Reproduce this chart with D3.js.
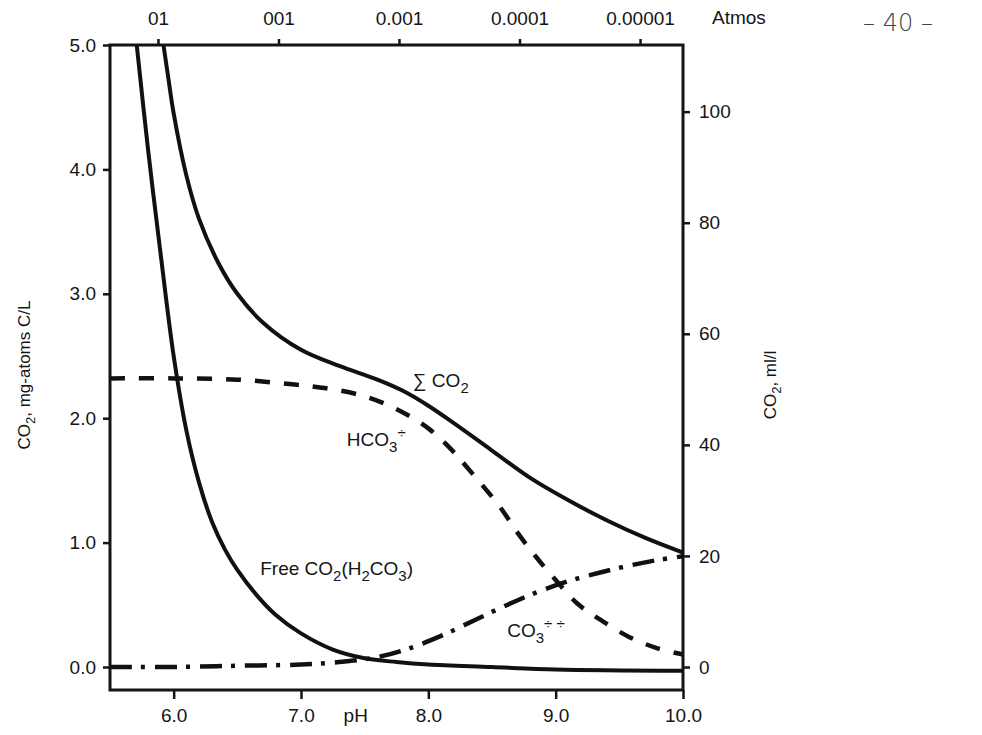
<!DOCTYPE html>
<html>
<head>
<meta charset="utf-8">
<script src="https://cdn.jsdelivr.net/npm/d3@7"></script>
<style>
    body { margin: 0; background: #fff; }
    svg text { font-family: 'Liberation Sans', Arial, sans-serif; fill: #151515; }
    .axis path.domain { display: none; }
    .axis line { stroke: #151515; stroke-width: 2.5; }
</style>
</head>
<body>
<div id="chart"></div>
<script>
// tick values
const phTicks = [6, 7, 8, 9, 10];
const mgTicks = [0, 1, 2, 3, 4, 5];
const mlTicks = [0, 20, 40, 60, 80, 100];
const atmosTicks = [0.1, 0.01, 0.001, 0.0001, 0.00001];
const atmosLabels = ['01', '001', '0.001', '0.0001', '0.00001'];

// curves, [pH, mg-atoms C/L]
const sumCO2 = [
    [5.92, 5.0], [5.96, 4.72], [6.0, 4.45], [6.1, 3.95], [6.2, 3.6],
    [6.35, 3.25], [6.5, 3.0], [6.7, 2.77], [7.0, 2.55], [7.3, 2.42],
    [7.6, 2.31], [7.8, 2.22], [8.0, 2.1], [8.2, 1.96], [8.5, 1.74],
    [8.8, 1.52], [9.1, 1.34], [9.4, 1.18], [9.7, 1.04], [10.0, 0.92],
];
const bicarbonate = [
    [5.5, 2.32], [6.0, 2.32], [6.5, 2.31], [6.95, 2.27], [7.2, 2.24],
    [7.45, 2.19], [7.65, 2.12], [7.83, 2.03], [8.01, 1.91], [8.17, 1.76],
    [8.3, 1.61], [8.56, 1.29], [8.7, 1.08], [8.85, 0.88], [9.0, 0.70],
    [9.17, 0.51], [9.35, 0.38], [9.58, 0.24], [9.8, 0.15], [10.0, 0.10],
];
const carbonate = [
    [5.5, 0.0], [6.0, 0.0], [6.5, 0.01], [7.0, 0.02], [7.3, 0.04],
    [7.6, 0.08], [7.85, 0.15], [8.1, 0.25], [8.35, 0.37], [8.6, 0.49],
    [8.85, 0.6], [9.1, 0.69], [9.35, 0.76], [9.6, 0.82], [9.8, 0.86],
    [10.0, 0.89],
];
const freeCO2 = [
    [5.71, 5.0], [5.8, 4.15], [5.9, 3.3], [6.0, 2.5], [6.1, 1.9],
    [6.2, 1.48], [6.3, 1.17], [6.4, 0.95], [6.5, 0.78], [6.65, 0.58],
    [6.8, 0.42], [7.0, 0.27], [7.25, 0.14], [7.5, 0.07], [7.75, 0.04],
    [8.0, 0.02], [8.5, 0.0], [9.0, -0.02], [10.0, -0.03],
];

const width = 982;
const height = 735;
const frame = {left: 110, right: 683, top: 45, zero: 667, bottom: 690};
const fontSize = '19px';

const svg = d3
    .select('#chart')
    .append('svg')
    .attr('width', width)
    .attr('height', height);

const x = d3.scaleLinear().domain([5.5, 10]).range([frame.left, frame.right]);
const y = d3.scaleLinear().domain([0, 5]).range([frame.zero, frame.top]);
const yMl = d3.scaleLinear().domain([0, 5 * 22.4]).range([frame.zero, frame.top]);
const xAtm = d3.scaleLog().domain([0.25, 4.4e-6]).range([frame.left, frame.right]);

// frame
svg.append('rect')
    .attr('x', frame.left)
    .attr('y', frame.top)
    .attr('width', frame.right - frame.left)
    .attr('height', frame.bottom - frame.top)
    .attr('fill', 'none')
    .attr('stroke', '#151515')
    .attr('stroke-width', 3);

const fmt = d3.format('.1f');

svg.append('g')
    .attr('class', 'axis')
    .attr('transform', 'translate(' + frame.left + ',0)')
    .call(d3.axisLeft(y).tickValues(mgTicks).tickFormat(fmt).tickSize(7).tickPadding(7))
    .selectAll('text')
    .style('font-size', fontSize);

svg.append('g')
    .attr('class', 'axis')
    .attr('transform', 'translate(' + frame.right + ',0)')
    .call(d3.axisRight(yMl).tickValues(mlTicks).tickSize(7).tickPadding(9))
    .selectAll('text')
    .style('font-size', fontSize);

svg.append('g')
    .attr('class', 'axis')
    .attr('transform', 'translate(0,' + frame.bottom + ')')
    .call(d3.axisBottom(x).tickValues(phTicks).tickFormat(fmt).tickSize(9).tickPadding(10))
    .selectAll('text')
    .style('font-size', fontSize);

svg.append('g')
    .attr('class', 'axis')
    .attr('transform', 'translate(0,' + frame.top + ')')
    .call(d3.axisTop(xAtm)
        .tickValues(atmosTicks)
        .tickFormat((d, i) => atmosLabels[i])
        .tickSize(6)
        .tickPadding(14))
    .selectAll('text')
    .style('font-size', fontSize);

svg.append('text')
    .attr('x', xAtm(4.4e-6) + 29)
    .attr('y', 24)
    .style('font-size', fontSize)
    .text('Atmos');

// page number of the plate
svg.append('text')
    .attr('x', 898)
    .attr('y', 31)
    .attr('text-anchor', 'middle')
    .style('font-family', "'DejaVu Sans', sans-serif")
    .style('font-size', '24px')
    .style('font-weight', 200)
    .style('fill', '#444')
    .text('\u2013 40 \u2013');

// text with sub / superscripts
const subText = (sel, parts) => {
    parts.forEach((p) => {
        const t = sel.append('tspan').text(p.t);
        if (p.sub) {
            t.attr('dy', p.dy || 6).style('font-size', p.size || '15px');
        } else if (p.sup) {
            t.attr('dy', p.dy || -10).style('font-size', p.size || '15px');
        } else if (p.dy) {
            t.attr('dy', p.dy);
        }
    });
    return sel;
};

subText(svg.append('text')
    .attr('transform', 'translate(30,375) rotate(-90)')
    .attr('text-anchor', 'middle')
    .style('font-size', '17px'),
[{t: 'CO'}, {t: '2', sub: true, size: '13px', dy: 5}, {t: ', mg-atoms C/L', dy: -5}]);

subText(svg.append('text')
    .attr('transform', 'translate(776,385) rotate(-90)')
    .attr('text-anchor', 'middle')
    .style('font-size', '17px'),
[{t: 'CO'}, {t: '2', sub: true, size: '13px', dy: 5}, {t: ', ml/l', dy: -5}]);

svg.append('text')
    .attr('x', x(7.43))
    .attr('y', frame.bottom + 32)
    .attr('text-anchor', 'middle')
    .style('font-size', fontSize)
    .text('pH');

// curves
const line = d3.line()
    .x((d) => x(d[0]))
    .y((d) => y(d[1]))
    .curve(d3.curveCatmullRom.alpha(0.5));

const series = [
    {data: freeCO2, dash: null, w: 4},
    {data: sumCO2, dash: null, w: 4},
    {data: bicarbonate, dash: '15,14', w: 4.5},
    {data: carbonate, dash: '22,9,4,10', w: 4.5},
];

svg.selectAll('.curve')
    .data(series)
    .enter()
    .append('path')
    .attr('class', 'curve')
    .attr('d', (d) => line(d.data))
    .attr('fill', 'none')
    .attr('stroke', '#111')
    .attr('stroke-width', (d) => d.w)
    .attr('stroke-dasharray', (d) => d.dash);

// curve labels
subText(svg.append('text')
    .attr('x', x(7.88))
    .attr('y', y(2.25))
    .style('font-size', fontSize),
[{t: '\u2211 CO'}, {t: '2', sub: true}]);

subText(svg.append('text')
    .attr('x', x(7.36))
    .attr('y', y(1.78))
    .style('font-size', fontSize),
[{t: 'HCO'}, {t: '3', sub: true}, {t: '\u00f7', sup: true, dy: -14}]);

subText(svg.append('text')
    .attr('x', x(6.68))
    .attr('y', y(0.74))
    .style('font-size', fontSize),
[{t: 'Free CO'}, {t: '2', sub: true}, {t: '(H', dy: -6}, {t: '2', sub: true},
    {t: 'CO', dy: -6}, {t: '3', sub: true}, {t: ')', dy: -6}]);

subText(svg.append('text')
    .attr('x', x(8.62))
    .attr('y', y(0.24))
    .style('font-size', fontSize),
[{t: 'CO'}, {t: '3', sub: true}, {t: '\u00f7 \u00f7', sup: true, dy: -14}]);
</script>
</body>
</html>
